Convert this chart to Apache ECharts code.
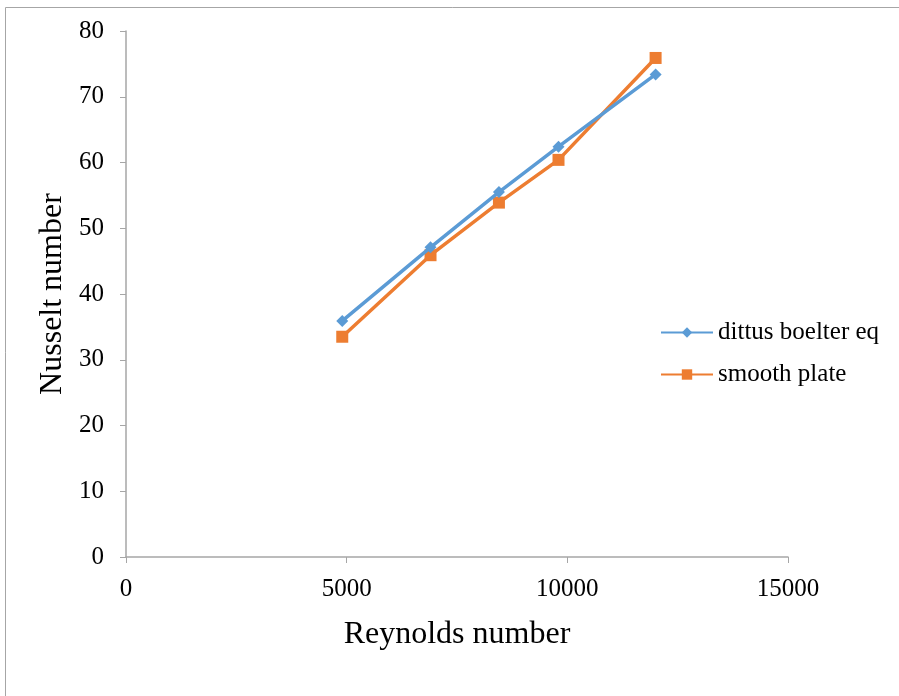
<!DOCTYPE html>
<html>
<head>
<meta charset="utf-8">
<script src="https://cdn.jsdelivr.net/npm/echarts@6/dist/echarts.min.js"></script>
<style>
  html, body { margin: 0; padding: 0; background: #fff; }
  #chart { width: 899px; height: 696px; }
</style>
</head>
<body>
<div id="chart"></div>
<script>
// Reynolds numbers of the test points
const reynolds = [4900, 6900, 8450, 9800, 12000];
// Nusselt number from the Dittus–Boelter correlation
const dittusBoelter = [35.9, 47.1, 55.5, 62.4, 73.4];
// Measured Nusselt number for the smooth plate
const smoothPlate = [33.5, 45.9, 53.9, 60.4, 75.9];

const xTicks = [0, 5000, 10000, 15000];
const yTicks = [0, 10, 20, 30, 40, 50, 60, 70, 80];

const font = '"Liberation Serif", "Times New Roman", serif';
const axisGray = '#a6a6a6';

const chart = echarts.init(document.getElementById('chart'), null, { renderer: 'canvas' });

chart.setOption({
  backgroundColor: '#ffffff',
  animation: false,
  graphic: [
    {
      type: 'polyline',
      shape: { points: [[5.5, 700], [5.5, 7.5], [905, 7.5]] },
      style: { stroke: '#a6a6a6', lineWidth: 1, fill: null }
    }
  ],
  grid: { left: 126, right: 111, top: 31, bottom: 139, containLabel: false },
  xAxis: {
    type: 'value',
    min: xTicks[0],
    max: xTicks[xTicks.length - 1],
    interval: 5000,
    name: 'Reynolds number',
    nameLocation: 'middle',
    nameGap: 62,
    nameTextStyle: { fontFamily: font, fontSize: 32, color: '#000' },
    axisLine: { show: true, lineStyle: { color: axisGray, width: 1.5 } },
    axisTick: { show: true, length: 6, lineStyle: { color: axisGray } },
    axisLabel: { fontFamily: font, fontSize: 25, color: '#000', margin: 20, formatter: v => String(v) },
    splitLine: { show: false }
  },
  yAxis: {
    type: 'value',
    min: yTicks[0],
    max: yTicks[yTicks.length - 1],
    interval: 10,
    name: 'Nusselt number',
    nameLocation: 'middle',
    nameGap: 57,
    nameTextStyle: { fontFamily: font, fontSize: 32, color: '#000' },
    axisLine: { show: true, lineStyle: { color: axisGray, width: 1.5 } },
    axisTick: { show: true, length: 6, lineStyle: { color: axisGray } },
    axisLabel: { fontFamily: font, fontSize: 25, color: '#000', margin: 22 },
    splitLine: { show: false }
  },
  legend: {
    orient: 'vertical',
    left: 655,
    top: 315,
    itemWidth: 52,
    itemHeight: 13,
    itemGap: 17,
    textStyle: { fontFamily: font, fontSize: 25, color: '#000' },
    data: ['dittus boelter eq', 'smooth plate']
  },
  series: [
    {
      name: 'dittus boelter eq',
      type: 'line',
      data: reynolds.map((r, i) => [r, dittusBoelter[i]]),
      symbol: 'diamond',
      symbolSize: 12,
      lineStyle: { color: '#5b9bd5', width: 3.5 },
      itemStyle: { color: '#5b9bd5' },
      z: 3
    },
    {
      name: 'smooth plate',
      type: 'line',
      data: reynolds.map((r, i) => [r, smoothPlate[i]]),
      symbol: 'rect',
      symbolSize: 12,
      lineStyle: { color: '#ed7d31', width: 3.5 },
      itemStyle: { color: '#ed7d31' },
      z: 2
    }
  ]
});
</script>
</body>
</html>
